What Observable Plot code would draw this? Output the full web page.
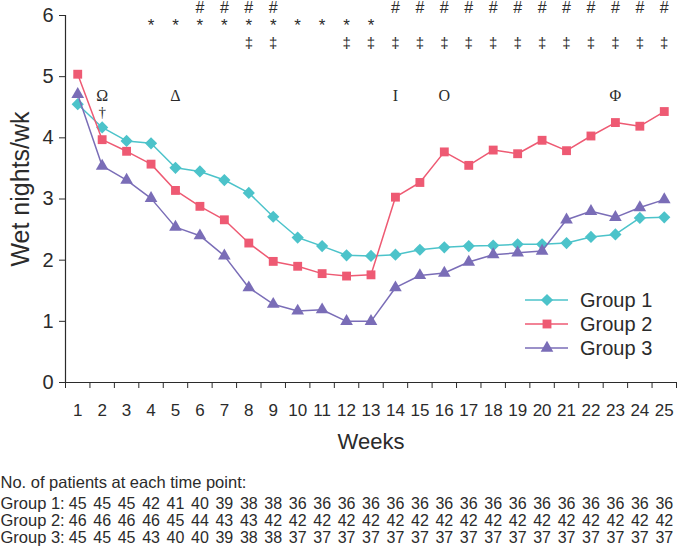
<!DOCTYPE html>
<html><head><meta charset="utf-8">
<script src="https://cdn.jsdelivr.net/npm/d3@7"></script>
<script src="https://cdn.jsdelivr.net/npm/@observablehq/plot@0.6"></script>
<style>
body{margin:0;background:#fff;}
#chart svg{display:block;}
</style>
</head><body><div id="chart"></div>
<script>
const weeks = [1,2,3,4,5,6,7,8,9,10,11,12,13,14,15,16,17,18,19,20,21,22,23,24,25];
const groups = ["Group 1", "Group 2", "Group 3"];
const group1 = [4.55,4.17,3.95,3.91,3.51,3.45,3.31,3.10,2.71,2.37,2.23,2.08,2.07,2.09,2.17,2.21,2.23,2.24,2.26,2.26,2.28,2.38,2.42,2.69,2.70];
const group2 = [5.04,3.97,3.78,3.57,3.14,2.88,2.66,2.28,1.98,1.90,1.78,1.74,1.76,3.03,3.27,3.77,3.55,3.80,3.74,3.96,3.79,4.03,4.25,4.19,4.43];
const group3 = [4.71,3.54,3.31,3.01,2.54,2.40,2.07,1.55,1.28,1.17,1.19,1.00,1.00,1.55,1.75,1.79,1.97,2.09,2.12,2.15,2.66,2.80,2.70,2.86,2.99];
const counts1 = [45,45,45,42,41,40,39,38,38,36,36,36,36,36,36,36,36,36,36,36,36,36,36,36,36];
const counts2 = [46,46,46,46,45,44,43,43,42,42,42,42,42,42,42,42,42,42,42,42,42,42,42,42,42];
const counts3 = [45,45,45,43,40,40,39,38,38,37,37,37,37,37,37,37,37,37,37,37,37,37,37,37,37];
const yTicks = [0,1,2,3,4,5,6];
const hashWeeks = [6,7,8,9,14,15,16,17,18,19,20,21,22,23,24,25];
const starWeeks = [4,5,6,7,8,9,10,11,12,13];
const ddaggerWeeks = [8,9,12,13,14,15,16,17,18,19,20,21,22,23,24,25];
const greekWeeks = [2,5,14,16,23];
const greekSymbols = ["Ω","Δ","I","O","Φ"];
const daggerWeeks = [2];
const tableTitle = "No. of patients at each time point:";
const yLabel = "Wet nights/wk";
const xLabel = "Weeks";

const series = [group1, group2, group3];
const counts = [counts1, counts2, counts3];
const colors = ["#4cc3ca", "#ee5a73", "#7a6db7"];
const symbols = ["diamond2", "square", "triangle"];
const d3Symbols = [d3.symbolDiamond2, d3.symbolSquare, d3.symbolTriangle];
const radii = [5.5, 5.0, 4.7];

const xDomain = [weeks[0] - 0.5, weeks[weeks.length - 1] + 0.5];
const halfTicks = d3.range(xDomain[0], xDomain[1] + 0.01, 1);
const sans = "'Liberation Sans', Arial, sans-serif";
const serif = "'Liberation Serif', 'Times New Roman', serif";
const ink = "#2b2b2b";
const mid = {lineAnchor: "middle", fill: ink};

const marks = [
  Plot.ruleY([0], {stroke: ink, strokeWidth: 1.2}),
  Plot.ruleX([xDomain[0]], {stroke: ink, strokeWidth: 1.2}),
  Plot.axisX({ticks: halfTicks, tickSize: 6, tickFormat: () => "", label: null, stroke: ink}),
  Plot.axisX({ticks: weeks, tickSize: 0, tickPadding: 21, fontSize: 17, label: null, fill: ink}),
  Plot.axisY({ticks: yTicks, tickSize: 6, tickPadding: 6, fontSize: 20, tickFormat: d3.format("d"), label: null, stroke: ink, fill: ink}),
  Plot.text([yLabel], {...mid, frameAnchor: "left", textAnchor: "middle", dx: -45, dy: -10, rotate: -90, fontSize: 25}),
  Plot.text([xLabel], {...mid, frameAnchor: "bottom", textAnchor: "middle", dy: 59, fontSize: 22}),
  Plot.text(hashWeeks, {...mid, x: d => d, text: () => "#", frameAnchor: "top", dy: -8, fontSize: 16}),
  Plot.text(starWeeks, {...mid, x: d => d, text: () => "*", frameAnchor: "top", dy: 10, fontSize: 17}),
  Plot.text(ddaggerWeeks, {...mid, x: d => d, text: () => "‡", frameAnchor: "top", dy: 28, fontSize: 15}),
  Plot.text(greekWeeks, {...mid, x: d => d, text: (d, i) => greekSymbols[i], frameAnchor: "top", dy: 80, fontSize: 16, fontFamily: serif}),
  Plot.text(daggerWeeks, {...mid, x: d => d, text: () => "†", frameAnchor: "top", dy: 97, fontSize: 15, fontFamily: serif}),
  Plot.text([tableTitle], {...mid, frameAnchor: "bottom-left", dx: -65, dy: 100, textAnchor: "start", fontSize: 16.5})
];

series.forEach((vals, g) => {
  marks.push(Plot.line(vals, {x: (d, i) => weeks[i], y: d => d, stroke: colors[g], strokeWidth: 1.5}));
  marks.push(Plot.dot(vals, {x: (d, i) => weeks[i], y: d => d, symbol: symbols[g], fill: colors[g], r: radii[g], stroke: "none"}));
});

counts.forEach((vals, g) => {
  const dy = 121 + g * 17;
  marks.push(Plot.text([groups[g] + ":"], {...mid, frameAnchor: "bottom-left", dx: -65, dy, textAnchor: "start", fontSize: 16.5}));
  marks.push(Plot.text(vals, {...mid, x: (d, i) => weeks[i], text: d => String(d), frameAnchor: "bottom", textAnchor: "middle", dy, fontSize: 16}));
});

const plot = Plot.plot({
  width: 677, height: 553,
  marginLeft: 65, marginRight: 1, marginTop: 15, marginBottom: 171,
  style: {fontFamily: sans, background: "white", color: ink, overflow: "visible"},
  x: {domain: xDomain},
  y: {domain: [0, 6]},
  marks
});

// legend (inside plot area, lower right)
const svg = d3.select(plot);
const lg = svg.append("g").attr("font-family", sans).attr("font-size", 20).attr("text-anchor", "start");
groups.forEach((name, i) => {
  const y = 300 + i * 24;
  lg.append("line").attr("x1", 525).attr("x2", 568).attr("y1", y).attr("y2", y)
    .attr("stroke", colors[i]).attr("stroke-width", 1.5);
  lg.append("path").attr("d", d3.symbol(d3Symbols[i], radii[i] * radii[i] * Math.PI)())
    .attr("transform", `translate(547,${y})`).attr("fill", colors[i]);
  lg.append("text").attr("x", 580).attr("y", y).attr("dy", "0.35em").attr("fill", ink).text(name);
});

document.getElementById("chart").appendChild(plot);
</script>
</body></html>
